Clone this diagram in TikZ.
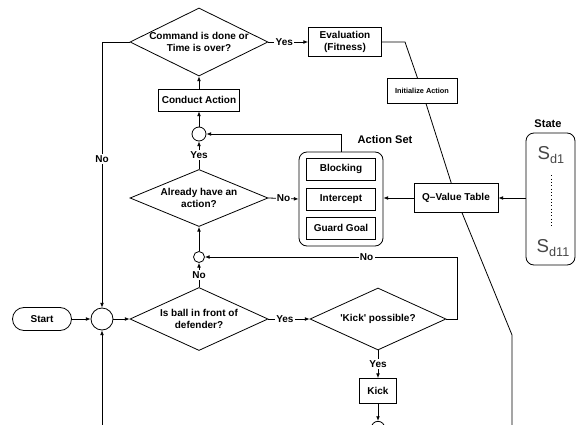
\documentclass[tikz,border=0pt]{standalone}
\usepackage{fontspec}
\setmainfont{Liberation Sans}
\usetikzlibrary{shapes.geometric,arrows.meta,positioning}

\begin{document}
\begin{tikzpicture}[x=0.75pt, y=-0.75pt, line width=0.6pt,
        every node/.style = {font=\bfseries\fontsize{7.5}{9}\selectfont, align=center},
        box/.style = {draw, rectangle, inner sep=0pt, fill=white},
        decision/.style = {draw, diamond, shape aspect=2.2, inner sep=-5pt, fill=white},
        joint/.style = {draw, circle, inner sep=0pt, fill=white},
        lbl/.style = {fill=white, inner sep=1pt},
        title/.style = {font=\bfseries\fontsize{8.3}{10}\selectfont},
        sstate/.style = {text=black!72, font=\fontsize{14}{14}\selectfont},
        arr/.style = {-{Latex[length=3.5pt,width=2.8pt]}},]
        \useasboundingbox (0,0) rectangle (576,425);

        \node[decision, minimum width=103.5pt, minimum height=51pt] (done) at (199,42) {Command is done or\\Time is over?};
        \node[box, minimum width=54.75pt, minimum height=21.75pt] (eval) at (345,42) {Evaluation\\(Fitness)};
        \node[box, minimum width=52.5pt, minimum height=18.75pt, font=\bfseries\fontsize{5.5}{6.5}\selectfont] (init) at (422,91) {Initialize Action};
        \node[box, minimum width=60.75pt, minimum height=16.5pt] (conduct) at (199,100) {Conduct Action};
        \node[joint, minimum size=10.5pt] (c1) at (199,134) {};

        \node[decision, minimum width=103.5pt, minimum height=42.75pt] (have) at (199,198) {Already have an\\action?};
        \node[draw, rounded corners=6pt, minimum width=63pt, minimum height=70.5pt] (aset) at (341,199) {};
        \node[title] (asetname) at (385,140) {Action Set};
        \node[box, minimum width=51.75pt, minimum height=16.5pt] (block) at (341,169) {Blocking};
        \node[box, minimum width=51.75pt, minimum height=16.5pt] (intercept) at (341,199) {Intercept};
        \node[box, minimum width=51.75pt, minimum height=16.5pt] (guard) at (341,228) {Guard Goal};
        \node[box, minimum width=63pt, minimum height=21.75pt] (qtab) at (456,198) {Q--Value Table};

        \node[draw, rounded corners=6pt, minimum width=36.75pt, minimum height=99pt] (state) at (550.5,199) {};
        \node[title] (statename) at (548,124) {State};
        \node[sstate] (sd1) at (551,155) {S\raisebox{-0.45ex}{\fontsize{9.5}{9.5}\selectfont d1}};
        \node[sstate] (sd11) at (553,248) {S\raisebox{-0.45ex}{\fontsize{9.5}{9.5}\selectfont d11}};

        \node[draw, rounded corners=8.6pt, minimum width=44.25pt, minimum height=17.25pt] (start) at (42,319) {Start};
        \node[joint, minimum size=16.5pt] (junc) at (102,319) {};
        \node[decision, minimum width=103.5pt, minimum height=47.25pt] (ball) at (199,319) {Is ball in front of\\defender?};
        \node[joint, minimum size=8.25pt] (c2) at (199,257) {};
        \node[decision, minimum width=102pt, minimum height=46.5pt] (kickq) at (378,319) {\textquotesingle Kick\textquotesingle\ possible?};
        \node[box, minimum width=27.75pt, minimum height=18.75pt] (kick) at (378,391) {Kick};
        \node[joint, minimum size=10pt] (c3) at (378,428) {};

        \coordinate (bend1) at (405,42);
        \coordinate (bend2) at (512,335);
        \coordinate (foot1) at (512,425);
        \coordinate (foot2) at (102,425);

        \draw[arr] (done.east) -- node[lbl, pos=0.4] {Yes} (eval.west);
        \draw (eval.east) -- (bend1) -- (init) -- (qtab) -- (bend2) -- (foot1);
        \draw[arr] (done.west) -| node[lbl, pos=0.72] {No} (junc.north);
        \draw[arr] (conduct.north) -- (done.south);
        \draw[arr] (c1.north) -- (conduct.south);
        \draw[arr] (have.north) -- node[lbl] {Yes} (c1.south);
        \draw[arr] (aset.north) |- (c1.east);
        \draw[arr] (have.east) -- node[lbl] {No} (aset.west);
        \draw[arr] (qtab.west) -- (qtab.west -| aset.east);
        \draw[arr] (state.west |- qtab.east) -- (qtab.east);
        \draw[dotted, line width=0.5pt, shorten <=5pt, shorten >=5pt] (sd1.south) -- (sd1.south |- sd11.north);

        \draw[arr] (start.east) -- (junc.west);
        \draw[arr] (foot2) -- (junc.south);
        \draw[arr] (junc.east) -- (ball.west);
        \draw[arr] (ball.north) -- node[lbl] {No} (c2.south);
        \draw[arr] (c2.north) -- (have.south);
        \draw[arr] (ball.east) -- node[lbl, pos=0.4] {Yes} (kickq.west);
        \draw[arr] (kickq.east) -- ++(11,0) |- node[lbl, pos=0.68] {No} (c2.east);
        \draw[arr] (kickq.south) -- node[lbl] {Yes} (kick.north);
        \draw[arr] (kick.south) -- (c3.north);

\end{tikzpicture}
\end{document}
